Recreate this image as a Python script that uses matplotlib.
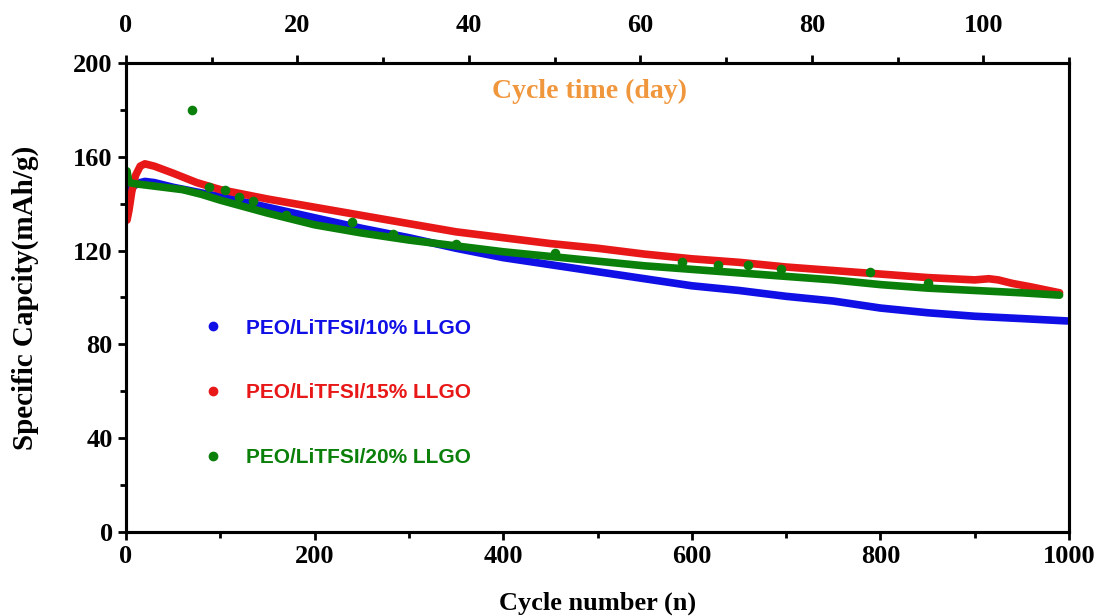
import numpy as np
import matplotlib
matplotlib.use("Agg")
import matplotlib.pyplot as plt
from matplotlib.lines import Line2D
from matplotlib.ticker import MultipleLocator

# datos (ciclo, capacidad)
ciclos_10 = [1, 3, 6, 10, 15, 20, 30, 50, 75, 100, 150, 200, 250, 300, 350, 400, 450,
             500, 550, 600, 650, 700, 750, 800, 850, 900, 950, 998]
cap_10 = [143, 145, 147, 148, 149, 149.5, 149, 147, 145, 143, 138.5, 134, 129.5, 125.5,
          121, 117, 114, 111, 108, 105, 103, 100.5, 98.5, 95.5, 93.5, 92, 91, 90]

ciclos_15 = [1, 3, 6, 10, 15, 20, 30, 50, 75, 100, 150, 200, 250, 300, 350, 400, 450,
             500, 550, 600, 650, 700, 750, 800, 850, 900, 915, 925, 940, 960, 990]
cap_15 = [133, 137, 145, 152, 156, 157, 156, 153, 149, 146, 142, 138.5, 135, 131.5, 128,
          125.5, 123, 121, 118.5, 116.5, 115, 113, 111.5, 110, 108.5, 107.5, 108, 107.5,
          106, 104.5, 102]

ciclos_20 = [1, 3, 10, 20, 40, 60, 80, 100, 150, 200, 250, 300, 350, 400, 450, 500, 550,
             600, 650, 700, 750, 800, 850, 900, 950, 990]
cap_20 = [154, 149, 148.5, 148, 147, 146, 144, 141.5, 136, 131, 127.5, 124.5, 122, 119.5,
          117.5, 115.5, 113.5, 112, 110.5, 109, 107.5, 105.5, 104, 103, 102, 101]

# puntos dispersos de la serie verde
ciclos_20_extra = [70, 88, 105, 120, 135, 170, 240, 283, 350, 455, 590, 628, 660, 695, 789, 850]
cap_20_extra = [180, 147, 146, 143, 141, 135, 132, 127, 123, 119, 115, 114, 114, 112, 111, 106]

etiquetas = ["PEO/LiTFSI/10% LLGO", "PEO/LiTFSI/15% LLGO", "PEO/LiTFSI/20% LLGO"]
colores = ["#1010E6", "#E81818", "#0A800A"]

serif = "Liberation Serif"
sans = "Liberation Sans"

fig = plt.figure(figsize=(10.99, 6.16), dpi=100)
ax = fig.add_axes([0.1147, 0.1364, 0.858, 0.7613])

ax.plot(ciclos_10, cap_10, color=colores[0], lw=5.5, solid_capstyle="round", zorder=2)
ax.plot(ciclos_15, cap_15, color=colores[1], lw=5.5, solid_capstyle="round", zorder=3)
ax.plot(ciclos_20, cap_20, color=colores[2], lw=5.5, solid_capstyle="round", zorder=4)
ax.scatter(ciclos_20_extra, cap_20_extra, s=35, color=colores[2], zorder=5)

ax.set_xlim(0, 1000)
ax.set_ylim(0, 200)
ax.xaxis.set_major_locator(MultipleLocator(200))
ax.xaxis.set_minor_locator(MultipleLocator(100))
ax.yaxis.set_major_locator(MultipleLocator(40))
ax.yaxis.set_minor_locator(MultipleLocator(20))
ax.tick_params(which="both", direction="out", width=2, top=False, right=False)
ax.tick_params(which="major", length=6, labelsize=19)
ax.tick_params(which="minor", length=4)
for lab in ax.get_xticklabels() + ax.get_yticklabels():
    lab.set_fontfamily(serif)
    lab.set_fontweight("bold")
for s in ax.spines.values():
    s.set_linewidth(2.2)

ax.set_xlabel("Cycle number (n)", fontsize=19, fontfamily=serif, fontweight="bold", labelpad=17)
ax.set_ylabel("Specific Capcity(mAh/g)", fontsize=21, fontfamily=serif, fontweight="bold", labelpad=25)

# eje superior en dias
ax2 = ax.twiny()
ax2.set_xlim(0, 110)
ax2.xaxis.set_major_locator(MultipleLocator(20))
ax2.xaxis.set_minor_locator(MultipleLocator(10))
ax2.tick_params(which="both", direction="out", width=2)
ax2.tick_params(which="major", length=6, labelsize=19, pad=13)
ax2.tick_params(which="minor", length=4)
for lab in ax2.get_xticklabels():
    lab.set_fontfamily(serif)
    lab.set_fontweight("bold")
for s in ax2.spines.values():
    s.set_linewidth(2.2)

ax.text(0.492, 0.94, "Cycle time (day)", transform=ax.transAxes, ha="center", va="center",
        fontsize=20, fontfamily=serif, fontweight="bold", color="#F0963C")

handles = [Line2D([], [], ls="none", marker="o", ms=6, color=c) for c in colores]
leg = ax.legend(handles, etiquetas, loc="upper left", bbox_to_anchor=(0.0817, 0.455),
                frameon=False, handlelength=0.95, handletextpad=1.1, labelspacing=2.2,
                borderpad=0, borderaxespad=0, prop={"family": sans, "weight": "bold", "size": 15})
for t, c in zip(leg.get_texts(), colores):
    t.set_color(c)

plt.savefig("out.png", dpi=100)
